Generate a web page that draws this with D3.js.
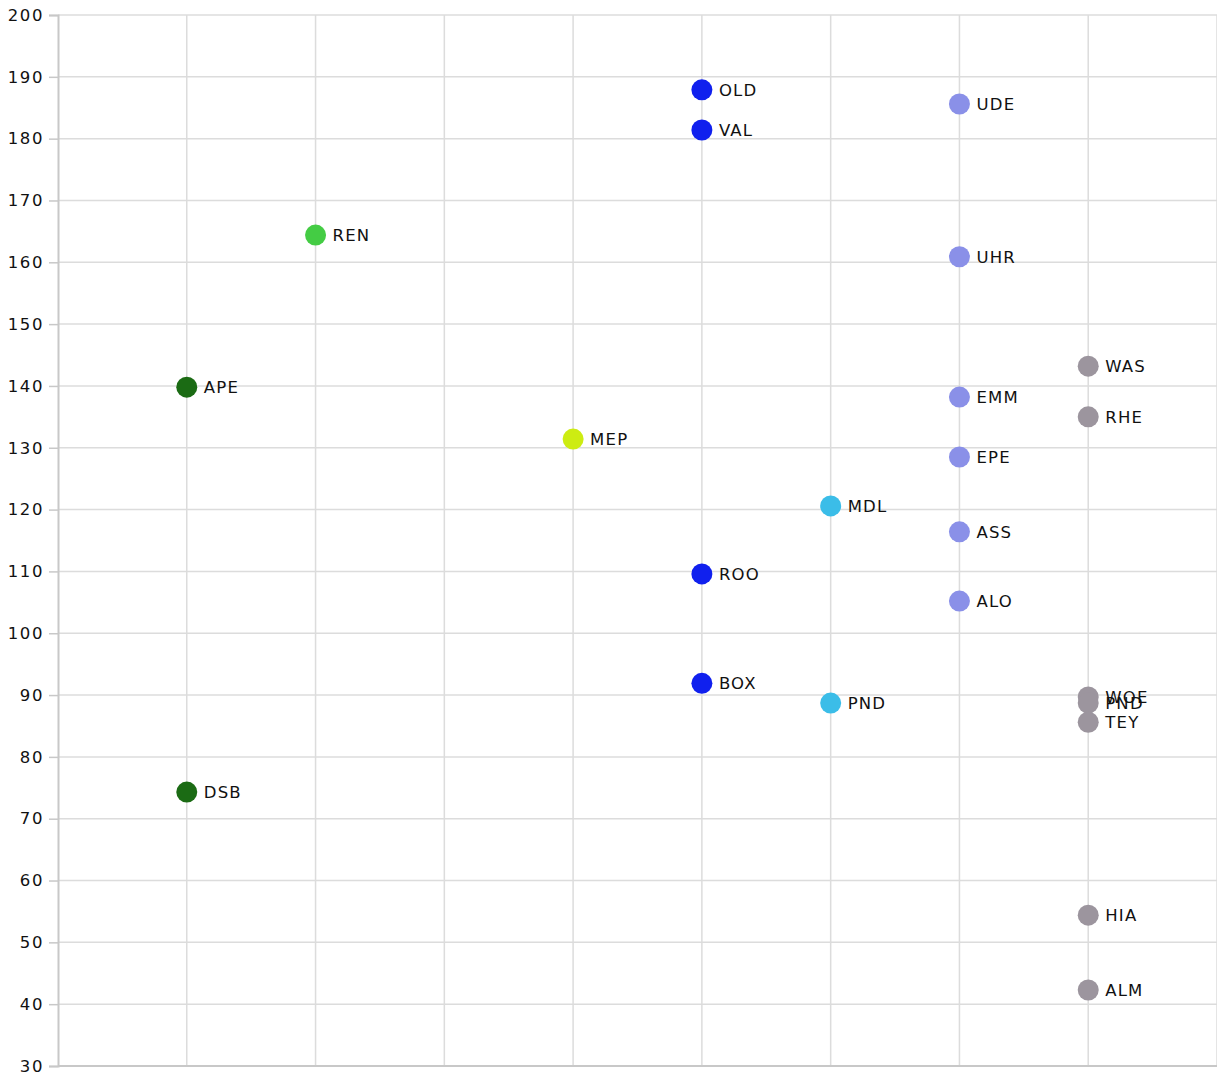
<!DOCTYPE html>
<html><head><meta charset="utf-8">
<script src="https://cdn.jsdelivr.net/npm/d3@7"></script>
<style>body{margin:0;background:#fff}svg{display:block}text{font-family:"DejaVu Sans",Verdana,sans-serif}</style>
</head><body>
<svg id="c" width="1217" height="1077"></svg>
<script>
const labels = ["APE","DSB","REN","MEP","OLD","VAL","ROO","BOX","MDL","PND","UDE","UHR","EMM","EPE","ASS","ALO","WAS","RHE","WOE","PND","TEY","HIA","ALM"];
const xIndex = [1,1,2,4,5,5,5,5,6,6,7,7,7,7,7,7,8,8,8,8,8,8,8];
const values = [139.8,74.3,164.4,131.4,187.9,181.4,109.6,91.9,120.6,88.7,185.6,160.9,138.2,128.5,116.4,105.2,143.2,135,89.7,88.7,85.6,54.4,42.3];
const groups = ["g1","g1","g2","g3","g4","g4","g4","g4","g5","g5","g6","g6","g6","g6","g6","g6","g7","g7","g7","g7","g7","g7","g7"];
const groupNames = ["g1","g2","g3","g4","g5","g6","g7"];
const groupColors = ["#1b6b14","#44cc44","#cdec12","#1020ee","#3bbde8","#8a90e8","#9c959e"];
const yTicks = [30,40,50,60,70,80,90,100,110,120,130,140,150,160,170,180,190,200];

const svg = d3.select("#c");
const m = {l:58, r:0, t:15, b:11};
const W = 1217, H = 1077;
const x = d3.scaleLinear().domain([0,9]).range([m.l, W - m.r]);
const y = d3.scaleLinear().domain([30,200]).range([H - m.b, m.t]);
const color = d3.scaleOrdinal().domain(groupNames).range(groupColors);

// grid
svg.append("g").selectAll("line").data(yTicks).join("line")
  .attr("x1", m.l).attr("x2", W).attr("y1", d=>y(d)).attr("y2", d=>y(d))
  .attr("stroke", "#dcdcdc").attr("stroke-width", 1.5);
svg.append("g").selectAll("line").data(d3.range(1,10)).join("line")
  .attr("x1", d=>x(d)).attr("x2", d=>x(d)).attr("y1", y(200)).attr("y2", y(30))
  .attr("stroke", "#dcdcdc").attr("stroke-width", 1.5);

// y axis
const ya = svg.append("g").attr("transform", `translate(${m.l},0)`)
  .call(d3.axisLeft(y).tickValues(yTicks).tickSize(9).tickPadding(5));
ya.select(".domain").attr("stroke", "#c8c8c8").attr("stroke-width", 2);
ya.selectAll(".tick line").attr("stroke", "#c8c8c8").attr("stroke-width", 1.5);
ya.selectAll(".tick text").attr("font-size", 16.5).attr("letter-spacing", 1.6).attr("fill", "#111").attr("font-family", "DejaVu Sans");
// bottom axis line
svg.append("line").attr("x1", m.l).attr("x2", W).attr("y1", y(30)).attr("y2", y(30))
  .attr("stroke", "#c8c8c8").attr("stroke-width", 2);

const data = labels.map((l,i)=>({label:l, xi:xIndex[i], v:values[i], g:groups[i]}));
const pts = svg.append("g").selectAll("g").data(data).join("g")
  .attr("transform", d=>`translate(${x(d.xi)},${y(d.v)})`);
pts.append("circle").attr("r", 10.5).attr("fill", d=>color(d.g));
pts.append("text").attr("x", 17).attr("dy", "0.36em").attr("font-size", 16.5).attr("letter-spacing", 1.2).attr("fill", "#111")
  .text(d=>d.label);
</script>
</body></html>
